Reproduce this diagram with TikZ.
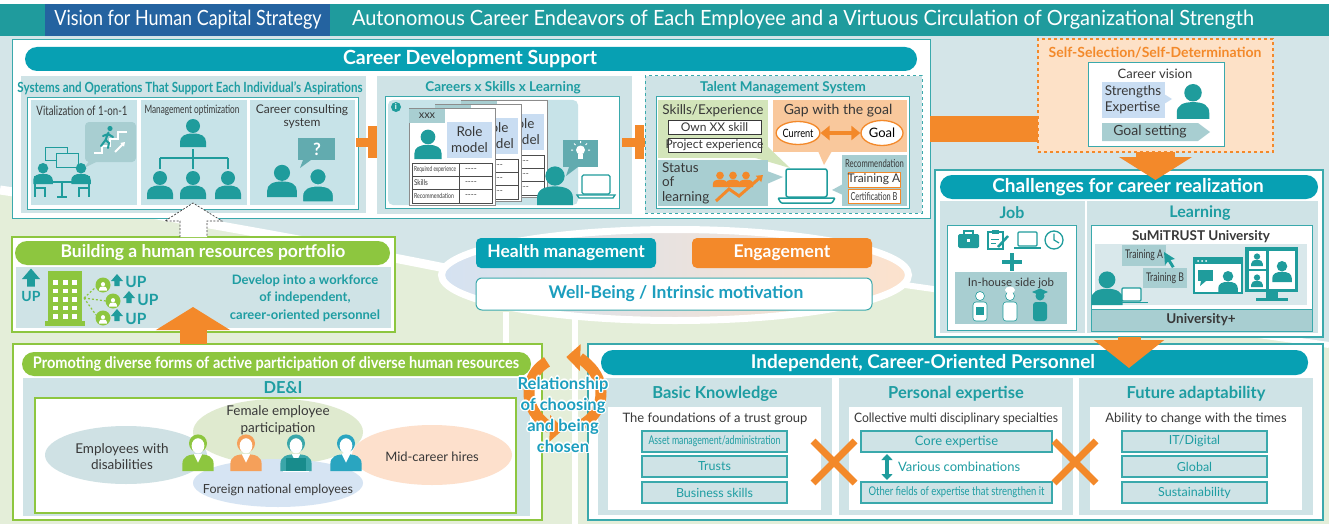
\documentclass[tikz,border=0pt]{standalone}
\usepackage{fontspec}
\usepackage{graphicx}
\setmainfont{Lato}
\newfontfamily\condfont[FakeStretch=0.8]{Lato}
\usetikzlibrary{fit,calc,arrows.meta,shapes.geometric}

\definecolor{hdrteal}{HTML}{1F9B9D}
\definecolor{hdrblue}{HTML}{2463A0}
\definecolor{pillteal}{HTML}{07A0B3}
\definecolor{tealtxt}{HTML}{1E9DA2}
\definecolor{frameteal}{HTML}{3AA9AC}
\definecolor{panelbg}{HTML}{CFE3E6}
\definecolor{panelin}{HTML}{C7E3E8}
\definecolor{grayteal}{HTML}{A8CED1}
\definecolor{iconteal}{HTML}{1F9C9C}
\definecolor{bubble}{HTML}{62ABAF}
\definecolor{orng}{HTML}{F3892A}
\definecolor{lorng}{HTML}{FDE1C7}
\definecolor{gapfill}{HTML}{F9C89C}
\definecolor{leaf}{HTML}{8DC63F}
\definecolor{lleaf}{HTML}{D3E5BA}
\definecolor{bgblue}{HTML}{D4E5E8}
\definecolor{bggreen}{HTML}{E4EED9}
\definecolor{darktext}{HTML}{383838}
\definecolor{lblue}{HTML}{C9DDF2}
\definecolor{univbg}{HTML}{D9E8EB}
\definecolor{relblue}{HTML}{1C9EBE}
\definecolor{ellL}{HTML}{D5E2F1}
\definecolor{ellM}{HTML}{E7E3E2}
\definecolor{ellR}{HTML}{FCE2CD}
\definecolor{efem}{HTML}{DFEACF}
\definecolor{edis}{HTML}{CFE1E4}
\definecolor{emid}{HTML}{FDE0CC}
\definecolor{efor}{HTML}{D6E4F3}
\definecolor{stafforange}{HTML}{F5A05A}
\definecolor{staffteal}{HTML}{3AA6A9}
\definecolor{staffblue}{HTML}{2AA5C0}
\definecolor{laptopdark}{HTML}{188C8C}

\newcommand\fs[2]{\fontsize{#1pt}{#2pt}\selectfont}
\newcommand\wfit[2]{\resizebox{#1pt}{\height}{#2}}
\newcommand\reltxt{Relationship\\of choosing\\and being\\chosen}

% a role-model card: name, left x, top y, 1 = front card with table labels
\newcommand\rolecard[4]{%
  \node[bx, fill=white, draw=black!45, line width=0.8pt, fit={(#2,#3)(#2+86,#3+97)}] (#1) {};
  \node[bx, fill=grayteal, fit={(#2,#3+1)(#2+36,#3+15)}] (#1tab) {};
  \pic[fill=iconteal, scale=1.05] at (#2+19,#3+51) {person};
  \node[bx, fill=lblue, fit={(#2+38,#3+14)(#2+83,#3+50)}] (#1role) {};
  \node[txt, align=center, font=\fs{13.5}{16}] (#1rolet) at (#2+60.5,#3+32) {Role\\model};
  \draw[black!70, line width=0.8pt] (#2+3,#3+55) rectangle (#2+83,#3+95)
     (#2+3,#3+68.3) -- (#2+83,#3+68.3) (#2+3,#3+81.6) -- (#2+83,#3+81.6)
     (#2+50,#3+55) -- (#2+50,#3+95);
  \node[txt, anchor=west] (#1c1) at (#2+56,#3+61.7) {\fs{8}{8}{-}{-}{-}{-}};
  \node[txt, anchor=west] (#1c2) at (#2+56,#3+75) {\fs{8}{8}{-}{-}{-}{-}};
  \node[txt, anchor=west] (#1c3) at (#2+56,#3+88.3) {\fs{8}{8}{-}{-}{-}{-}};
  \ifnum#4=1
  \node[txt] (#1tabt) at (#2+18,#3+8) {\fs{11}{12}xxx};
  \node[txt, anchor=west] (#1r1) at (#2+5,#3+61.7) {\condfont\fs{7}{7}\wfit{42}{Required experience}};
  \node[txt, anchor=west] (#1r2) at (#2+5,#3+75) {\condfont\fs{8}{8}Skills};
  \node[txt, anchor=west] (#1r3) at (#2+5,#3+88.3) {\condfont\fs{7}{7}\wfit{40}{Recommendation}};
  \fi
}

\tikzset{
  person/.pic={
    \path[pic actions] (0,-21) circle (7);
    \path[pic actions] (-13,0) -- (-13,-5) .. controls (-13,-11) and (-8,-13.5) .. (0,-13.5)
       .. controls (8,-13.5) and (13,-11) .. (13,-5) -- (13,0) -- cycle;
  },
  worker/.pic={
    \path[pic actions] (0,-25) circle (4.5);
    \path[pic actions, rounded corners=3pt] (-7,-19) rectangle (7,0);
  },
  staff/.pic={
    \path[pic actions] (-13,0) -- (-13,-6) .. controls (-13,-12) and (-8,-14) .. (0,-14)
       .. controls (8,-14) and (13,-12) .. (13,-6) -- (13,0) -- cycle;
    \path[pic actions] (0,-23) circle (7.5);
    \fill[white] (0,-21) ellipse (5.3 and 6.3);
    \fill[white] (-3.5,-14) -- (0,-7) -- (3.5,-14) -- cycle;
  },
  uparrow/.pic={
    \path[pic actions] (-6,0) -- (0,-7) -- (6,0) -- (2.6,0) -- (2.6,5) -- (-2.6,5) -- (-2.6,0) -- cycle;
  },
}

\begin{document}
\begin{tikzpicture}[x=1pt,y=-1pt,
  bx/.style={inner sep=0pt, outer sep=0pt},
  wframe/.style={bx, fill=white, draw=frameteal, line width=1pt},
  gframe/.style={bx, fill=white, draw=leaf, line width=1.5pt},
  panel/.style={bx, fill=panelbg},
  pillT/.style={bx, fill=pillteal, rounded corners=12pt},
  pillG/.style={bx, fill=leaf, rounded corners=12pt},
  txt/.style={inner sep=0pt, outer sep=0pt, text=darktext},
  ttl/.style={txt, text=tealtxt, font=\bfseries},
  wtxt/.style={txt, text=white, font=\bfseries},
  itembox/.style={bx, fill=panelbg, draw=frameteal, line width=1.2pt},
  itxt/.style={txt, text=tealtxt},
  reltext/.style={txt, align=center, font={\bfseries\fs{16.5}{21}}, text=relblue},
]
\useasboundingbox (0,0) rectangle (1329,524);

% ---------- background ----------
\fill[bgblue] (0,0) rectangle (1329,524);
\fill[bggreen] (0,190) .. controls (150,212) and (330,245) .. (445,268) -- (905,285)
   -- (1329,345) -- (1329,524) -- (0,524) -- cycle;
\draw[white, line width=9] (0,190) .. controls (150,212) and (330,245) .. (445,268);
\draw[white, line width=6] (905,285) -- (1329,345);
\fill[white] (0,0) rectangle (1329,4);
\fill[white] (503,312) rectangle (509,344);
\fill[white] (572,312) rectangle (578,524);

% ---------- central ellipse ----------
\shade[left color=ellL, middle color=ellM, right color=ellR] (675,275) ellipse (230 and 42);
\draw[white, line width=7] (675,275) ellipse (233.5 and 45.5);

% ---------- header ----------
\node[bx, fill=hdrteal, fit={(0,4)(1329,36)}] (hdr) {};
\node[bx, fill=hdrblue, fit={(45,4)(330,36)}] (hdrtag) {};
\node[txt, text=white] (hdrtagt) at (188,20) {\condfont\fs{21}{22}\wfit{267}{Vision for Human Capital Strategy}};
\node[txt, text=white] (hdrtitle) at (803,20) {\condfont\fs{21}{22}\wfit{902}{Autonomous Career Endeavors of Each Employee and a Virtuous Circulation of Organizational Strength}};

% ---------- career development support ----------
\node[wframe, fit={(12,40)(930,218)}] (cds) {};
\node[pillT, fit={(25,47)(917,71)}] (cdsbar) {};
\node[wtxt] (cdstitle) at (470,59) {\fs{19.5}{22}Career Development Support};

% systems and operations
\node[panel, fit={(21,76)(366,213)}] (sys) {};
\node[ttl] (systitle) at (190,88) {\condfont\fs{14}{15}\wfit{345}{Systems and Operations That Support Each Individual’s Aspirations}};
\node[wframe, fit={(27,98)(358,209)}] (sysframe) {};
\node[bx, fill=panelin, fit={(31,100)(137,205)}] (pone) {};
\node[bx, fill=panelin, fit={(141,100)(247,205)}] (pmgmt) {};
\node[bx, fill=panelin, fit={(250,100)(355,205)}] (pcons) {};
\node[txt] (ponet) at (82,111) {\condfont\fs{13}{14}\wfit{91}{Vitalization of 1-on-1}};
\node[txt] (pmgmtt) at (192,110) {\condfont\fs{11.5}{13}\wfit{95}{Management optimization}};
\node[txt, align=center, font=\fs{12}{13}] (pconst) at (302,117) {Career consulting\\system};

% 1-on-1 icon
\fill[grayteal, rounded corners=4pt] (85,122) rectangle (136,162);
\fill[grayteal] (90,160) -- (84,168) -- (100,160) -- cycle;
\draw[white, line width=2.2] (94,153) -- (102,153) -- (102,146) -- (110,146) -- (110,139) -- (118,139) -- (118,132) -- (127,132);
\draw[white, line width=2, -{Triangle[length=4pt,width=5pt]}] (115,152) -- (125,142);
\fill[iconteal] (110,128.5) circle (2.6);
\draw[iconteal, line width=2, line cap=round] (108.5,132.5) -- (105.5,140) (108,134) -- (113,137) (108,134) -- (103,136)
   (105.5,140) -- (109,143) -- (108,148) (105.5,140) -- (101,146);
\draw[iconteal, fill=panelin, line width=0.9] (45,147) rectangle (67,160);
\draw[iconteal, fill=panelin, line width=0.9] (56,153) rectangle (78,167);
\pic[fill=iconteal, scale=0.75] at (43,184) {person};
\pic[fill=iconteal, scale=0.75] at (81,184) {person};
\draw[iconteal, line width=2.5] (50,182) -- (74,182);
\draw[iconteal, line width=2] (62,182) -- (62,197) (57,197) -- (67,197);
\draw[iconteal, line width=2] (35,176) -- (35,197) (35,188) -- (45,188) -- (45,197)
   (89,176) -- (89,197) (89,188) -- (79,188) -- (79,197);

% org chart icon
\pic[fill=iconteal] at (193,147) {person};
\draw[iconteal, line width=1.2] (193,149) -- (193,169) (160,158) -- (228,158) (160,158) -- (160,169) (228,158) -- (228,169);
\pic[fill=iconteal] at (160,199) {person};
\pic[fill=iconteal] at (193,199) {person};
\pic[fill=iconteal] at (228,199) {person};

% consulting icon
\fill[bubble] (298,138) rectangle (335,160);
\fill[bubble] (303,160) -- (300,168) -- (311,160) -- cycle;
\node[txt, text=white, font=\bfseries] (qmark) at (317,149) {\fs{17}{17}?};
\pic[fill=iconteal, scale=1.15] at (282,197) {person};
\pic[fill=iconteal, draw=panelin, line width=1.5, scale=1.2] at (318,202) {person};

% plus signs
\fill[orng] (356,138) rectangle (388,146.5);
\fill[orng] (367.5,126) rectangle (376.5,158);

% careers x skills x learning
\node[panel, fit={(377,76)(632,214)}] (csl) {};
\node[ttl] (csltitle) at (503,88) {\fs{13.5}{15}Careers x Skills x Learning};
\node[wframe, fit={(385,97)(619,208)}] (cslframe) {};
\node[bx, fill=panelin, rounded corners=5pt, fit={(388,100)(578,205)}] (cslin) {};
\node[circle, fill=iconteal, minimum size=10pt, inner sep=0pt, text=white, font=\bfseries] (info) at (396,107) {\fs{8}{8}i};
\rolecard{cardc}{461}{100}{0}
\rolecard{cardb}{435}{104}{0}
\rolecard{carda}{409}{108}{1}
\pic[fill=iconteal, scale=1.38] at (555,205) {person};
\fill[bubble] (563,140) rectangle (598,167);
\fill[bubble] (569,167) -- (566,176) -- (578,167) -- cycle;
\fill[white] (580.5,150) circle (4.5);
\fill[white] (578.3,154) rectangle (582.7,159);
\draw[white, line width=1] (580.5,143) -- (580.5,141) (573,150) -- (571,150) (588,150) -- (590,150)
   (575.5,145) -- (574,143.5) (585.5,145) -- (587,143.5);
\draw[iconteal, line width=1.3, fill=white, rounded corners=1.5pt] (582,175) rectangle (610,194);
\draw[iconteal, line width=1.3, fill=white] (577,195) -- (615,195) -- (613,198) -- (579,198) -- cycle;

\fill[orng] (622,138) rectangle (656,146.5);
\fill[orng] (634.5,125) rectangle (643.5,159);

% talent management system
\node[panel, draw=frameteal, dashed, line width=1pt, fit={(645,76)(922,213)}] (tms) {};
\node[ttl] (tmstitle) at (783,88) {\fs{13.5}{15}Talent Management System};
\node[wframe, fit={(656,97)(909,208)}] (tmsframe) {};
\node[bx, fill=lleaf, fit={(658,100)(768,158)}] (skl) {};
\fill[lleaf] (752,157) -- (790,168) -- (768,147) -- cycle;
\node[txt] (sklt) at (713,111) {\fs{13.5}{15}Skills/Experience};
\node[bx, fill=white, draw=darktext, line width=0.8pt, fit={(668,120)(761,134)}] (own) {};
\node[txt] (ownt) at (714.5,127) {\fs{12}{13}Own XX skill};
\node[bx, fill=white, draw=darktext, line width=0.8pt, fit={(668,138)(761,152)}] (proj) {};
\node[txt] (projt) at (714.5,145) {\fs{12}{13}Project experience};
\node[bx, fill=gapfill, fit={(773,100)(907,152)}] (gap) {};
\fill[gapfill] (818,151) -- (824,165) -- (832,151) -- cycle;
\node[txt] (gapt) at (838,111) {\fs{14}{15}Gap with the goal};
\node[ellipse, draw=orng, fill=white, line width=1.3pt, minimum width=36, minimum height=23, inner sep=0pt] (cur) at (798,133) {\condfont\fs{11.5}{12}Current};
\node[ellipse, draw=orng, fill=white, line width=1.3pt, minimum width=42, minimum height=25, inner sep=0pt] (goal) at (882,133) {\fs{13}{14}Goal};
\draw[orng, line width=4.5, {Triangle[length=9pt,width=14pt]}-{Triangle[length=9pt,width=14pt]}] (cur) -- (goal);
\node[bx, fill=grayteal, fit={(658,160)(768,206)}] (stat) {};
\fill[grayteal] (767,171) -- (783,177) -- (767,184) -- cycle;
\node[txt, align=left, anchor=west, font=\fs{13.5}{14.5}] (statt) at (662,183) {Status\\of\\learning};
\pic[fill=orng, scale=0.55] at (720,187) {person};
\pic[fill=orng, scale=0.55] at (733,187) {person};
\pic[fill=orng, scale=0.55] at (746,187) {person};
\draw[orng, line width=3, -{Triangle[length=6pt,width=8pt]}] (716,201) -- (729,189) -- (739,196) -- (763,175);
\draw[iconteal, line width=1.5, fill=white, rounded corners=2pt] (786,169) rectangle (827,197);
\draw[iconteal, line width=1.5, fill=white, rounded corners=1pt] (778,198) -- (835,198) -- (832,203) -- (781,203) -- cycle;
\node[bx, fill=grayteal, fit={(842,155)(907,206)}] (rec) {};
\fill[grayteal] (843,184) -- (832,190) -- (843,195) -- cycle;
\node[txt] (rect) at (874.5,163) {\condfont\fs{11}{11}\wfit{59}{Recommendation}};
\node[bx, fill=white, draw=orng, line width=1pt, fit={(848,172)(900,187)}] (trna) {};
\node[txt] (trnat) at (874,179.5) {\fs{12}{12}Training A};
\node[bx, fill=white, draw=orng, line width=1pt, fit={(848,189)(900,203)}] (certb) {};
\node[txt] (certbt) at (874,196) {\condfont\fs{11}{11}\wfit{47}{Certification B}};

% ---------- self-selection ----------
\node[bx, fill=lorng, draw=orng, dashed, line width=1.3pt, fit={(1038,39)(1273,152)}] (self) {};
\draw[orng, line width=26] (cds.east) -- (cds.east -| self.west);
\node[txt, text=orng, font=\bfseries] (selft) at (1155,53) {\fs{14}{15}Self-Selection/Self-Determination};
\node[wframe, fit={(1088,63)(1224,146)}] (selfframe) {};
\node[txt] (cvis) at (1155,74) {\fs{13}{14}Career vision};
\node[bx, fill=lblue, fit={(1102,82)(1165,118)}] (strength) {};
\fill[lblue] (1164,94) -- (1172,99) -- (1164,104) -- cycle;
\node[txt, align=left, font=\fs{13.5}{16}] (strt) at (1133,100) {Strengths\\Expertise};
\pic[fill=iconteal, scale=1.25] at (1193,119) {person};
\fill[grayteal] (1102,123) -- (1198,123) -- (1210,132) -- (1198,141) -- (1102,141) -- cycle;
\node[txt] (goalset) at (1150,132) {\fs{14}{15}Goal setting};

% ---------- challenges ----------
\node[wframe, line width=1.2pt, fit={(935,170)(1323,337)}] (chal) {};
\node[pillT, fit={(940,175)(1318,199)}] (chbar) {};
\node[wtxt] (chbart) at (1128,187) {\fs{19}{22}Challenges for career realization};
\draw[orng, line width=39, -{Triangle[length=23pt,width=72pt]}, shorten >=7pt] (self.south) -- (self.south |- chbar.center);

\node[panel, fit={(940,201)(1085,333)}] (job) {};
\node[ttl] (jobt) at (1012,213) {\fs{16}{17}Job};
\node[wframe, fit={(947,225)(1076,330)}] (jobframe) {};
\fill[iconteal, rounded corners=1.5pt] (958,234) rectangle (979,248);
\draw[iconteal, line width=1.3] (964,234) -- (964,231) -- (973,231) -- (973,234);
\fill[white] (967,239) rectangle (970,242);
\draw[iconteal, line width=1.4, fill=white] (988,232) rectangle (1003,249);
\fill[iconteal] (992,230) rectangle (999,234);
\draw[iconteal, line width=1] (991,239) -- (999,239) (991,243) -- (996,243);
\draw[iconteal, line width=2.5] (998,247) -- (1008,236);
\draw[iconteal, line width=1.3, fill=white, rounded corners=1pt] (1018,232) rectangle (1037,246);
\draw[iconteal, line width=1.3] (1014,248) -- (1041,248);
\draw[iconteal, line width=1.3, fill=white] (1054,240) circle (9);
\draw[iconteal, line width=1.2] (1054,233.5) -- (1054,240) -- (1059,243);
\fill[iconteal] (1002,260.3) rectangle (1022,263.7);
\fill[iconteal] (1010.3,253) rectangle (1013.7,271);
\node[bx, fill=grayteal, fit={(955,272)(1067,324)}] (side) {};
\node[txt] (sidet) at (1011,283) {\fs{11.5}{12}In-house side job};
\pic[fill=white, draw=iconteal, line width=0.6] at (980,321) {worker};
\fill[iconteal] (976,307) rectangle (984,315);
\pic[fill=white, draw=iconteal, line width=0.6] at (1010,321) {worker};
\fill[white] (1010,290) ellipse (5 and 3.5);
\pic[fill=iconteal] at (1040,321) {worker};
\fill[iconteal] (1032,292) -- (1040,288.5) -- (1048,292) -- (1040,295.5) -- cycle;

\node[panel, fit={(1087,201)(1318,333)}] (learn) {};
\node[ttl] (learnt) at (1200,213) {\fs{16}{17}Learning};
\node[wframe, fit={(1091,225)(1312,331)}] (learnframe) {};
\node[txt, font=\bfseries] (sumit) at (1201,237) {\fs{13.5}{15}SuMiTRUST University};
\node[bx, fill=univbg, fit={(1095,244)(1307,305)}] (uarea) {};
\node[bx, fill=grayteal, draw=frameteal, line width=1pt, fit={(1091,309)(1312,331)}] (uplus) {};
\node[txt, font=\bfseries] (uplust) at (1201,320) {\fs{13.5}{15}University+};
\node[bx, fill=grayteal, fit={(1122,245)(1166,266)}] (trnA) {};
\node[txt] (trnAt) at (1144,255.5) {\condfont\fs{12}{12}\wfit{38}{Training A}};
\node[bx, fill=grayteal, fit={(1143,268)(1187,288)}] (trnB) {};
\node[txt] (trnBt) at (1165,278) {\condfont\fs{12}{12}\wfit{38}{Training B}};
\fill[iconteal] (1164,252) -- (1165,265) -- (1168,261.5) -- (1172,268) -- (1174.5,266.5) -- (1170.5,260) -- (1175,259) -- cycle;
\pic[fill=iconteal, scale=1.2] at (1107,305) {person};
\draw[iconteal, line width=1.1, fill=white, rounded corners=1pt] (1122,288) rectangle (1141,301);
\draw[iconteal, line width=1.1] (1119,302.5) -- (1148,302.5);
\draw[iconteal, line width=2.5, fill=white] (1194,258) rectangle (1242,293);
\fill[iconteal] (1194,258) rectangle (1242,264);
\fill[white] (1198,261) circle (1) (1202,261) circle (1) (1206,261) circle (1);
\fill[iconteal] (1198,270) rectangle (1213,281);
\fill[iconteal] (1201,281) -- (1200,286) -- (1206,281) -- cycle;
\pic[fill=iconteal, scale=0.75] at (1228,292) {person};
\fill[iconteal] (1245,247) rectangle (1298,292);
\fill[white] (1248.5,250.5) rectangle (1266,268.5);
\fill[white] (1248.5,271) rectangle (1266,289);
\fill[white] (1269,250.5) rectangle (1295,289);
\pic[fill=iconteal, scale=0.45] at (1257,266) {person};
\pic[fill=iconteal, scale=0.45] at (1257,287) {person};
\pic[fill=iconteal, scale=0.75] at (1282,282) {person};
\fill[iconteal] (1266,292) rectangle (1278,298);
\fill[iconteal] (1256,298) rectangle (1288,301);

% ---------- independent, career-oriented personnel ----------
\node[wframe, line width=1.2pt, fit={(588,344)(1323,520)}] (indep) {};
\node[pillT, fit={(601,350)(1308,375)}] (ibar) {};
\node[wtxt] (ibart) at (923,363) {\fs{19}{22}Independent, Career-Oriented Personnel};
\draw[orng, line width=23, -{Triangle[length=28pt,width=69pt]}, shorten >=7pt] (chal.south) -- (chal.south |- ibar.south);

\node[panel, fit={(598,378)(832,515)}] (basic) {};
\node[panel, fit={(839,378)(1073,515)}] (pers) {};
\node[panel, fit={(1079,378)(1313,515)}] (fut) {};
\node[ttl] (basict) at (715,394) {\fs{16.5}{18}Basic Knowledge};
\node[ttl] (perst) at (956,394) {\fs{16.5}{18}Personal expertise};
\node[ttl] (futt) at (1196,394) {\fs{16.5}{18}Future adaptability};
\node[bx, fill=white, fit={(608,407)(821,510)}] (basicin) {};
\node[bx, fill=white, fit={(849,407)(1062,510)}] (persin) {};
\node[bx, fill=white, fit={(1090,407)(1302,510)}] (futin) {};
\node[txt] (basics) at (715,419) {\fs{13}{14}The foundations of a trust group};
\node[txt] (perss) at (956,419) {\fs{13}{14}\wfit{204}{Collective multi disciplinary specialties}};
\node[txt] (futs) at (1196,419) {\fs{13}{14}Ability to change with the times};
\node[itembox, fit={(642,431)(787,452)}] (bone) {};
\node[itxt] (bonet) at (714.5,441.5) {\condfont\fs{12}{12}\wfit{132}{Asset management/administration}};
\node[itembox, fit={(642,456)(787,477)}] (btwo) {};
\node[itxt] (btwot) at (714.5,466.5) {\fs{12.5}{13}Trusts};
\node[itembox, fit={(642,482)(787,503)}] (bthree) {};
\node[itxt] (bthreet) at (714.5,492.5) {\fs{12.5}{13}Business skills};
\node[itembox, fit={(861,431)(1052,452)}] (cone) {};
\node[itxt] (conet) at (956.5,441.5) {\fs{13}{13}Core expertise};
\node[itembox, fit={(861,482)(1052,503)}] (cthree) {};
\node[itxt] (cthreet) at (956.5,492.5) {\condfont\fs{12}{12}\wfit{176}{Other fields of expertise that strengthen it}};
\draw[iconteal, line width=4, {Triangle[length=6pt,width=11pt]}-{Triangle[length=6pt,width=11pt]}]
   ($(cone.south west)+(26,2)$) -- ($(cthree.north west)+(26,-2)$);
\node[itxt, anchor=west] (varc) at (898,467) {\fs{13}{14}Various combinations};
\node[itembox, fit={(1122,431)(1267,452)}] (fone) {};
\node[itxt] (fonet) at (1194.5,441.5) {\fs{12.5}{13}IT/Digital};
\node[itembox, fit={(1122,456)(1267,477)}] (ftwo) {};
\node[itxt] (ftwot) at (1194.5,466.5) {\fs{12.5}{13}Global};
\node[itembox, fit={(1122,482)(1267,503)}] (fthree) {};
\node[itxt] (fthreet) at (1194.5,492.5) {\fs{12.5}{13}Sustainability};
\draw[orng, line width=7] (813,441) -- (855,483) (855,441) -- (813,483);
\draw[orng, line width=7] (1054,441) -- (1096,483) (1096,441) -- (1054,483);

% ---------- central ellipse content ----------
\node[bx, fill=pillteal, rounded corners=5pt, fit={(476,238)(656,268)}] (health) {};
\node[wtxt] (healtht) at (566,253) {\fs{17.5}{19}Health management};
\node[bx, fill=orng, rounded corners=5pt, fit={(692,238)(872,268)}] (engage) {};
\node[wtxt] (engaget) at (782,253) {\fs{17.5}{19}Engagement};
\node[bx, fill=white, draw=frameteal, line width=1pt, rounded corners=6pt, fit={(476,278)(872,310)}] (wellb) {};
\node[txt, text=relblue, font=\bfseries] (wellbt) at (676,294) {\fs{17.5}{19}Well-Being / Intrinsic motivation};

% ---------- building a human resources portfolio ----------
\node[gframe, fit={(12,237)(395,332)}] (bport) {};
\node[pillG, fit={(15,241)(390,265)}] (bbar) {};
\node[wtxt] (bbart) at (203,253) {\fs{17.5}{20}Building a human resources portfolio};
\node[panel, fit={(16,267)(391,328)}] (bin) {};
\pic[fill=iconteal, scale=1.5] at (31,279) {uparrow};
\node[ttl] (upz) at (31,296) {\fs{14}{15}UP};
\fill[leaf] (48,271) rectangle (82,322);
\fill[leaf] (45,321) rectangle (85,326);
\foreach \i in {0,1,2} {\foreach \j in {0,...,4} {\fill[white] (53+\i*9.5,280+\j*8.5) rectangle ++(5,4.5);}}
\draw[leaf, line width=1.2, dash pattern=on 2pt off 2pt] (84,298) -- (96,287) (84,298) -- (106,301) (84,298) -- (96,315);
\node[circle, fill=leaf, minimum size=15, inner sep=0pt] (pcone) at (103,285) {};
\node[circle, fill=leaf, minimum size=15, inner sep=0pt] (pctwo) at (113,301) {};
\node[circle, fill=leaf, minimum size=15, inner sep=0pt] (pcthree) at (103,318) {};
\pic[fill=white, scale=0.3] at (103,290.5) {person};
\pic[fill=white, scale=0.3] at (113,306.5) {person};
\pic[fill=white, scale=0.3] at (103,323.5) {person};
\pic[fill=iconteal] at (117,281) {uparrow};
\pic[fill=iconteal] at (129,298) {uparrow};
\pic[fill=iconteal] at (117,316) {uparrow};
\node[ttl] (upa) at (136,282) {\fs{15.5}{16}UP};
\node[ttl] (upb) at (148,300) {\fs{15.5}{16}UP};
\node[ttl] (upc) at (136,319) {\fs{15.5}{16}UP};
\node[ttl, align=center, font={\bfseries\fs{13}{17.5}}] (bdev) at (305,298) {Develop into a workforce\\of independent,\\career-oriented personnel};

% dashed arrow from the portfolio up to career support
\filldraw[fill=white, draw=black!75, dash pattern=on 2pt off 1.5pt, line width=0.7]
   (180,237) -- (180,221) -- (165,221) -- (193,203) -- (222,221) -- (207,221) -- (207,237);

% ---------- promoting diverse participation ----------
\node[gframe, fit={(13,344)(542,520)}] (promo) {};
\node[pillG, fit={(22,352)(531,376)}] (pbar) {};
\node[wtxt] (pbart) at (276,364) {\condfont\fs{16}{17}\wfit{486}{Promoting diverse forms of active participation of diverse human resources}};
\node[panel, fit={(23,378)(530,516)}] (dei) {};
\node[bx, fill=white, draw=leaf, line width=1.3pt, fit={(35,398)(516,513)}] (deiin) {};
\node[ttl] (deit) at (283,388) {\fs{16.5}{18}DE\&I};
\node[ellipse, fill=efem, minimum width=170, minimum height=66, inner sep=0pt] (efe) at (278,432) {};
\node[ellipse, fill=efor, minimum width=170, minimum height=48, inner sep=0pt] (efo) at (278,483) {};
\node[ellipse, fill=edis, minimum width=162, minimum height=58, inner sep=0pt] (edi) at (126,455) {};
\node[ellipse, fill=emid, minimum width=160, minimum height=60, inner sep=0pt] (emi) at (432,455) {};
\node[txt, align=center, font=\fs{13.5}{16.5}] (efet) at (278,420) {Female employee\\participation};
\node[txt, align=center, font=\fs{13.5}{16}] (edit) at (122,457) {Employees with\\disabilities};
\node[txt] (emit) at (432,457) {\fs{13}{15}Mid-career hires};
\node[txt] (efot) at (278,490) {\fs{12.5}{14}Foreign national employees};
\pic[fill=leaf, scale=1.2] at (198,471) {staff};
\pic[fill=stafforange, scale=1.2] at (246,471) {staff};
\pic[fill=staffteal, scale=1.2] at (296,471) {staff};
\fill[laptopdark] (286,458) rectangle (306,471);
\draw[white, line width=1] (283,471.5) -- (309,471.5);
\pic[fill=staffblue, scale=1.2] at (346,471) {staff};
\draw[orng, line width=27, -{Triangle[length=23pt,width=73pt]}]
   ($(promo.north west)+(180,0)$) -- ($(bport.south west)+(181,-25)$);

% ---------- relationship of choosing and being chosen ----------
\begin{scope}[shift={(565,393)}, x=1pt, y=1pt]
  \draw[orng, line width=11, -{Triangle[length=14pt,width=26pt]}] (-60:36) arc[start angle=-60, end angle=88, radius=36];
  \draw[orng, line width=11, -{Triangle[length=14pt,width=26pt]}] (120:36) arc[start angle=120, end angle=268, radius=36];
\end{scope}
\foreach \dx/\dy [count=\k] in {1.3/0,-1.3/0,0/1.3,0/-1.3,0.95/0.95,-0.95/0.95,0.95/-0.95,-0.95/-0.95} {
  \node[reltext, text=white] (relhalo\k) at (563+\dx,414.5+\dy) {\reltxt};
}
\node[reltext] (rel) at (563,414.5) {\reltxt};

\end{tikzpicture}
\end{document}
